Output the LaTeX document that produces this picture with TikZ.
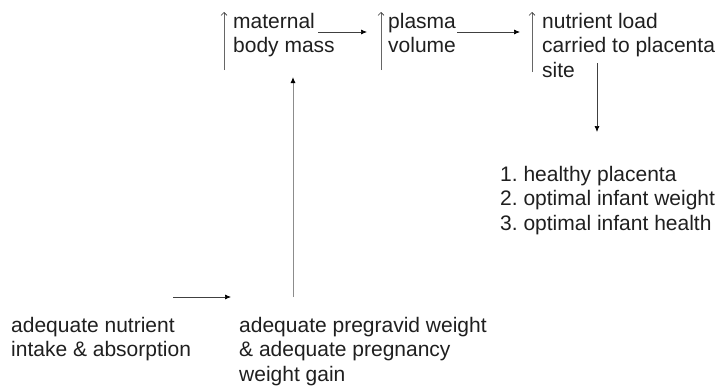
\documentclass[tikz,border=0pt]{standalone}
\usepackage{fontspec}
\setmainfont{Liberation Sans}
\usetikzlibrary{arrows.meta}
\frenchspacing
\tikzset{
  lbl/.style={anchor=base west, inner sep=0pt, align=left, text=black!88,
    font=\fontsize{21}{24.8}\selectfont\frenchspacing},
  uparr/.style={draw=black!60, line width=0.6pt, -{Straight Barb[length=3pt,width=6pt,black!80,line width=0.6pt]}},
  flow/.style={draw=black!75, line width=0.7pt, -{Latex[length=6pt,width=5pt,black]}},
  longflow/.style={draw=black!45, line width=1pt, -{Latex[length=6pt,width=5pt,black]}},
}
\begin{document}
\begin{tikzpicture}[x=1pt,y=-1pt]
\useasboundingbox (0,0) rectangle (719,388);
% text nodes (anchor at baseline of last line)
\node[lbl] (mat) at (233,52.8) {maternal\\body mass};
\node[lbl] (pla) at (388,52.8) {plasma\\volume};
\node[lbl] (nut) at (542,77.6) {nutrient load\\carried to placenta\\site};
\node[lbl] (out) at (500,230.6) {1. healthy placenta\\2. optimal infant weight\\3. optimal infant health};
\node[lbl] (int) at (11,356.8) {adequate nutrient\\intake \& absorption};
\node[lbl] (wgt) at (239,381.6) {adequate pregravid weight\\\& adequate pregnancy\\weight gain};
% coordinates
\coordinate (matU1) at (224,70); \coordinate (matU2) at (224,12);
\coordinate (plaU1) at (381,70); \coordinate (plaU2) at (381,12);
\coordinate (nutU1) at (532,72); \coordinate (nutU2) at (532,12);
\coordinate (mp1) at (318,32); \coordinate (mp2) at (367,32);
\coordinate (pn1) at (457,32); \coordinate (pn2) at (520,32);
\coordinate (nd1) at (597,63); \coordinate (nd2) at (597,132);
\coordinate (iw1) at (173,297); \coordinate (iw2) at (231,297);
\coordinate (wm1) at (293,297); \coordinate (wm2) at (293,77);
% arrows
\draw[uparr] (matU1) -- (matU2);
\draw[uparr] (plaU1) -- (plaU2);
\draw[uparr] (nutU1) -- (nutU2);
\draw[flow] (mp1) -- (mp2);
\draw[flow] (pn1) -- (pn2);
\draw[flow] (nd1) -- (nd2);
\draw[flow] (iw1) -- (iw2);
\draw[longflow] (wm1) -- (wm2);
\end{tikzpicture}
\end{document}
